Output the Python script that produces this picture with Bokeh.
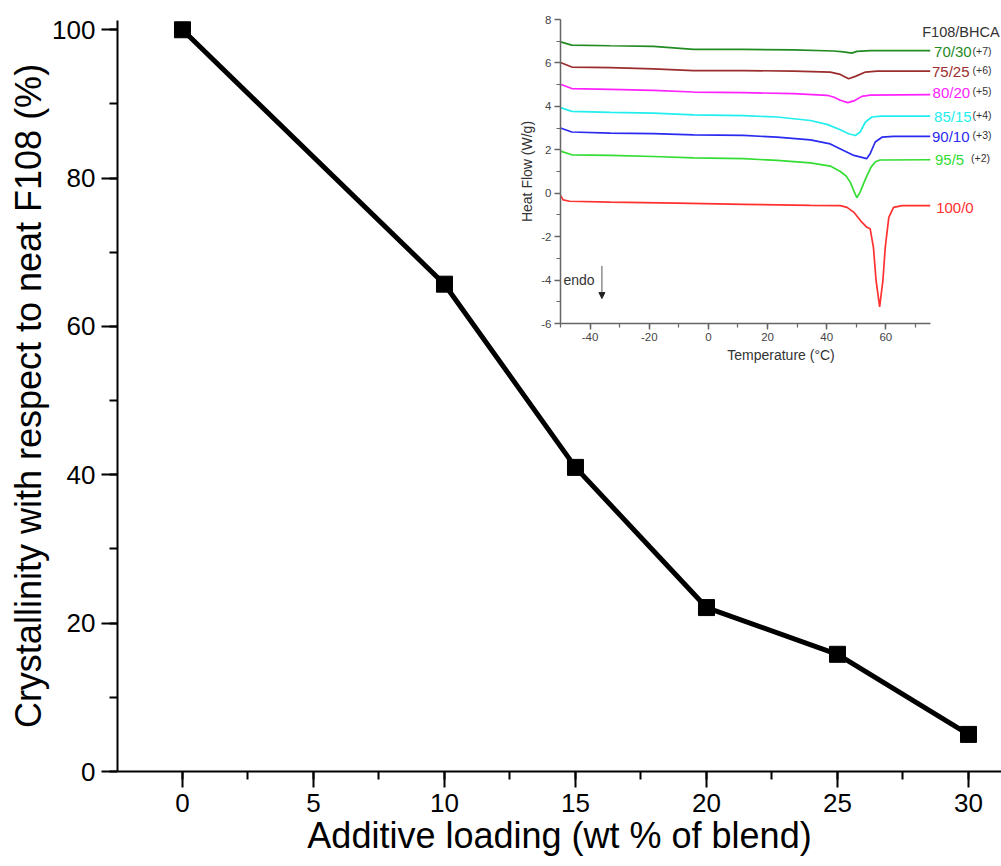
from bokeh.plotting import figure
from bokeh.models import Range1d, SingleIntervalTicker, Arrow, NormalHead, PrintfTickFormatter
from bokeh.layouts import column
from bokeh.embed import file_html
from bokeh.resources import INLINE
from bokeh.core.properties import value

FONT = "Liberation Sans"

# ---------------- main chart data ----------------
loading = [0, 10, 15, 20, 25, 30]
crystallinity = [100.0, 65.7, 41.0, 22.1, 15.8, 5.0]

# ---------------- inset DSC data (shifted values as drawn) ----------------
t_7030 = [-50, -46.2, -33.2, -18.6, -5.0, 11.9, 28.8, 42.3, 45.7, 48.5, 50.2, 54.7, 75]
h_7030 = [6.97, 6.82, 6.79, 6.76, 6.62, 6.62, 6.60, 6.55, 6.51, 6.45, 6.53, 6.57, 6.57]

t_7525 = [-50, -46.2, -33.2, -18.6, -5.0, 11.9, 28.8, 41.2, 44.6, 47.4, 49.7, 53.1, 57.0, 75]
h_7525 = [6.02, 5.81, 5.78, 5.73, 5.65, 5.65, 5.62, 5.58, 5.47, 5.27, 5.38, 5.58, 5.62, 5.62]

t_8020 = [-50, -46.2, -33.2, -18.6, -5.0, 11.9, 28.8, 40.1, 42.3, 44.6, 47.1, 49.2, 51.9, 54.7, 75]
h_8020 = [5.02, 4.82, 4.78, 4.74, 4.66, 4.63, 4.59, 4.51, 4.43, 4.28, 4.17, 4.25, 4.46, 4.52, 4.54]

t_8515 = [-50, -46.2, -33.2, -18.6, -5.0, 11.9, 23.2, 34.5, 40.1, 44.6, 47.4, 49.7, 51.3, 53.1, 55.3, 58.2, 75]
h_8515 = [3.94, 3.77, 3.72, 3.69, 3.61, 3.57, 3.51, 3.35, 3.17, 2.92, 2.74, 2.66, 2.82, 3.28, 3.51, 3.55, 3.55]

t_9010 = [-50, -46.2, -33.2, -18.6, -5.0, 11.9, 23.2, 34.5, 41.2, 45.7, 49.2, 53.5, 54.7, 56.4, 58.7, 62.6, 75]
h_9010 = [3.00, 2.82, 2.77, 2.74, 2.69, 2.66, 2.58, 2.46, 2.27, 1.97, 1.74, 1.59, 1.82, 2.36, 2.58, 2.62, 2.62]

t_955 = [-50, -46.2, -33.2, -18.6, -5.0, 11.9, 23.2, 34.5, 41.2, 44.6, 46.5, 48.0, 49.2, 50.2, 51.3, 52.5, 53.6, 55.0, 56.5, 58.0, 75]
h_955 = [1.94, 1.77, 1.74, 1.69, 1.63, 1.59, 1.51, 1.40, 1.25, 1.00, 0.80, 0.50, 0.10, -0.21, 0.05, 0.45, 0.80, 1.20, 1.45, 1.53, 1.54]

t_1000 = [-50, -49.1, -46.9, -33.2, -10.7, 11.9, 34.5, 44.6, 46.9, 49.2, 51.4, 53.6, 54.7, 55.8, 56.7, 57.9, 59.0, 59.8, 61.0, 62.6, 65.5, 75]
h_1000 = [-0.10, -0.31, -0.37, -0.41, -0.46, -0.51, -0.56, -0.57, -0.65, -0.88, -1.26, -1.57, -1.64, -2.49, -4.03, -5.23, -4.03, -2.49, -1.11, -0.65, -0.57, -0.57]

curve_labels = ["70/30", "75/25", "80/20", "85/15", "90/10", "95/5", "100/0"]
curve_offsets = ["(+7)", "(+6)", "(+5)", "(+4)", "(+3)", "(+2)", ""]
curve_colors = ["#238b23", "#9b2d2d", "#ff22ff", "#22eeee", "#2b2bf0", "#33dd33", "#ff3030"]
label_y = [6.51, 5.62, 4.66, 3.54, 2.61, 1.55, -0.68]
label_t = [76.3, 75.6, 75.8, 76.3, 75.6, 76.6, 77.0]
offset_t = [89.3, 89.3, 89.3, 89.3, 89.3, 88.8, 89.3]
series_t = [t_7030, t_7525, t_8020, t_8515, t_9010, t_955, t_1000]
series_h = [h_7030, h_7525, h_8020, h_8515, h_9010, h_955, h_1000]

# ---------------- main figure ----------------
p = figure(width=1001, height=866,
           x_range=Range1d(-2.48, 31.26), y_range=Range1d(0, 101.25),
           output_backend="svg", toolbar_location=None,
           min_border_left=117, min_border_right=0, min_border_top=20, min_border_bottom=95,
           outline_line_color=None, background_fill_color="white", border_fill_color="white")
p.grid.visible = False
p.line(loading, crystallinity, line_width=5, color="black")
p.scatter(loading, crystallinity, marker="square", size=16, color="black")

p.xaxis.ticker = SingleIntervalTicker(interval=5, num_minor_ticks=2)
p.yaxis.ticker = SingleIntervalTicker(interval=20, num_minor_ticks=2)
p.xaxis.axis_label = "Additive loading (wt % of blend)"
p.yaxis.axis_label = "Crystallinity with respect to neat F108 (%)"
for ax in (p.xaxis[0], p.yaxis[0]):
    ax.axis_line_width = 2
    ax.major_tick_line_width = 2
    ax.minor_tick_line_width = 2
    ax.major_tick_in = 0
    ax.major_tick_out = 16
    ax.minor_tick_in = 0
    ax.minor_tick_out = 8
    ax.major_label_text_font = FONT
    ax.major_label_text_font_size = "26px"
    ax.major_label_text_color = "black"
    ax.axis_label_text_font = FONT
    ax.axis_label_text_font_size = "36px"
    ax.axis_label_text_font_style = "normal"
    ax.axis_label_text_color = "black"
    ax.major_label_standoff = 6
    ax.axis_label_standoff = 0

# ---------------- inset figure ----------------
# (column layout aligns the left border with the main plot: 117 px)
inset = figure(width=558, height=375,
               x_range=Range1d(-50, 99.1), y_range=Range1d(-6, 8),
               output_backend="svg", toolbar_location=None,
               min_border_left=117, min_border_right=0, min_border_top=19, min_border_bottom=52,
               background_fill_alpha=0, border_fill_alpha=0, outline_line_color=None,
               styles={"position": "absolute", "left": "443px", "top": "0px"})
inset.grid.visible = False
for t, h, c in zip(series_t, series_h, curve_colors):
    inset.line(t, h, line_width=1.7, color=c)

inset.text(x=label_t, y=label_y, text=curve_labels,
           text_color=curve_colors, text_font=value(FONT), text_font_size="15px",
           text_align="left", text_baseline="middle")
inset.text(x=offset_t, y=[v + 0.05 for v in label_y], text=curve_offsets,
           text_color="#333333", text_font=value(FONT), text_font_size="10.5px",
           text_align="left", text_baseline="middle")
inset.text(x=[72.3], y=[7.43], text=["F108/BHCA"], text_color="#333333",
           text_font=value(FONT), text_font_size="14.5px", text_align="left", text_baseline="middle")
inset.text(x=[-49.0], y=[-4.0], text=["endo"], text_color="#333333",
           text_font=value(FONT), text_font_size="14px", text_align="left", text_baseline="middle")
inset.add_layout(Arrow(end=NormalHead(size=6, fill_color="#222222", line_color="#222222"),
                       x_start=-36, y_start=-3.35, x_end=-36, y_end=-4.85,
                       line_color="#555555", line_width=1))

inset.xaxis.ticker = SingleIntervalTicker(interval=20, num_minor_ticks=2)
inset.yaxis.ticker = SingleIntervalTicker(interval=2, num_minor_ticks=2)
inset.xaxis.formatter = PrintfTickFormatter(format="%d")
inset.yaxis.formatter = PrintfTickFormatter(format="%d")
inset.xaxis.bounds = (-50, 75)
inset.xaxis.axis_label = "Temperature (°C)"
inset.yaxis.axis_label = "Heat Flow (W/g)"
for ax in (inset.xaxis[0], inset.yaxis[0]):
    ax.axis_line_width = 1.5
    ax.axis_line_color = "#666666"
    ax.major_tick_line_color = "#666666"
    ax.minor_tick_line_color = "#666666"
    ax.major_tick_line_width = 1.5
    ax.minor_tick_line_width = 1.2
    ax.major_tick_in = 0
    ax.major_tick_out = 6
    ax.minor_tick_in = 0
    ax.minor_tick_out = 4
    ax.major_label_text_font = FONT
    ax.major_label_text_font_size = "11.5px"
    ax.major_label_text_color = "#444444"
    ax.axis_label_text_font = FONT
    ax.axis_label_text_font_size = "14px"
    ax.axis_label_text_font_style = "normal"
    ax.axis_label_text_color = "#333333"
    ax.major_label_standoff = 3
    ax.axis_label_standoff = 3

layout = column(p, inset, styles={"position": "relative"})
open("out.html", "w").write(file_html(layout, INLINE))
